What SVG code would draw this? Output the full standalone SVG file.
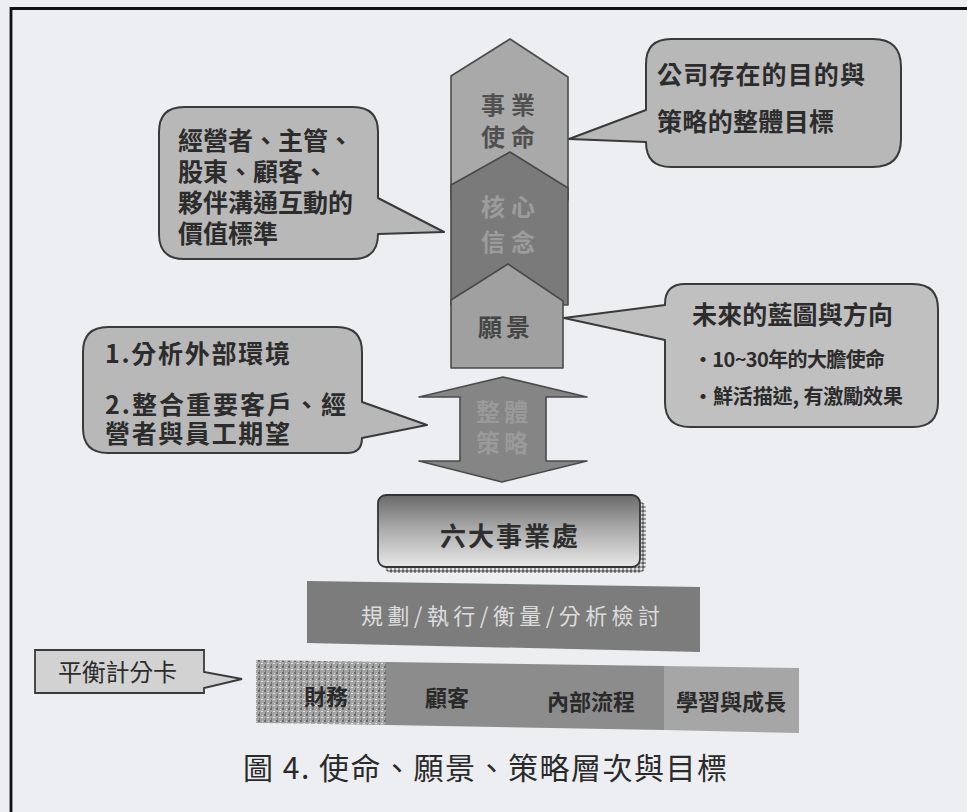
<svg xmlns="http://www.w3.org/2000/svg" width="967" height="812" viewBox="0 0 967 812">
<defs>
<style>
text{font-family:"Noto Sans CJK TC","Noto Sans CJK SC",sans-serif;}
.co{fill:#b8b8b8;stroke:#3a3a3a;stroke-width:2;stroke-linejoin:round;}
.ct{font-size:25px;font-weight:700;fill:#2c2c2c;}
.cs{font-size:20px;font-weight:700;fill:#2c2c2c;}
.col{stroke:#4a4a4a;stroke-width:1.6;stroke-linejoin:round;}
.lbl{font-size:24px;font-weight:700;text-anchor:middle;}
.bsc{font-size:22px;font-weight:700;fill:#2a2a2a;text-anchor:middle;}
</style>
<linearGradient id="g6" x1="0" y1="0" x2="0" y2="1">
<stop offset="0" stop-color="#6a6a6a"/>
<stop offset="0.45" stop-color="#a8a8a8"/>
<stop offset="1" stop-color="#e8e8e8"/>
</linearGradient>
<pattern id="speck" width="6" height="6" patternUnits="userSpaceOnUse">
<rect width="6" height="6" fill="#a4a4a4"/>
<rect x="0" y="0" width="2" height="2" fill="#6c6c6c"/>
<rect x="3" y="3" width="2" height="1" fill="#e2e2e2"/>
<rect x="4" y="1" width="1" height="1" fill="#d8d8d8"/>
<rect x="1" y="4" width="1" height="2" fill="#7a7a7a"/>
</pattern>
<pattern id="shadow" width="4" height="4" patternUnits="userSpaceOnUse">
<rect width="4" height="4" fill="#9c9c9c"/>
<rect x="0" y="0" width="2" height="2" fill="#e4e4e4"/>
<rect x="2" y="2" width="2" height="2" fill="#5e5e5e"/>
</pattern>
</defs>

<rect width="967" height="812" fill="#eceef1"/>
<path d="M11,812 V8.5 H967" fill="none" stroke="#111" stroke-width="2.8"/>

<g id="mission">
<polygon class="col" points="510,39 568,77 568,200 451,200 451,76" fill="#a9a9a9"/>
<text class="lbl" x="511" y="114" fill="#505050" letter-spacing="6">事業</text>
<text class="lbl" x="511" y="146" fill="#505050" letter-spacing="6">使命</text>
</g>
<g id="core-values">
<polygon class="col" points="510,152 568,188 568,305 451,305 451,185" fill="#7a7a7a"/>
<text class="lbl" x="511" y="216" fill="#9c9c9c" letter-spacing="6">核心</text>
<text class="lbl" x="511" y="251" fill="#9c9c9c" letter-spacing="6">信念</text>
</g>
<g id="vision">
<polygon class="col" points="508,264 563,301 563,368 451,368 451,300" fill="#a0a0a0"/>
<text class="lbl" x="506" y="336" fill="#454545" letter-spacing="4">願景</text>
</g>

<g id="callout-stakeholders">
<path class="co" d="M184,107 H353 Q378,107 378,132 V198 L444,232 L378,234 Q378,259 353,259 H184 Q159,259 159,234 V132 Q159,107 184,107 Z"/>
<text class="ct" x="178" y="150">經營者、主管、</text>
<text class="ct" x="178" y="181">股東、顧客、</text>
<text class="ct" x="178" y="212">夥伴溝通互動的</text>
<text class="ct" x="178" y="243">價值標準</text>
</g>

<g id="callout-purpose">
<path class="co" d="M671,39 H873 Q901,39 901,67 V139 Q901,167 873,167 H671 Q646,167 646,142 L569,139 L646,110 V64 Q646,39 671,39 Z"/>
<text class="ct" x="657" y="84" textLength="208" lengthAdjust="spacing">公司存在的目的與</text>
<text class="ct" x="657" y="131" textLength="177" lengthAdjust="spacing">策略的整體目標</text>
</g>

<g id="callout-future">
<path class="co" fill="#c0c0c0" style="fill:#c0c0c0" d="M685,284 H913 Q938,284 938,309 V402 Q938,427 913,427 H690 Q665,427 665,402 V340 L564,318 L665,305 V304 Q665,284 685,284 Z"/>
<text class="ct" x="692" y="324" textLength="201" lengthAdjust="spacing">未來的藍圖與方向</text>
<text class="cs" x="693" y="367" textLength="192" lengthAdjust="spacing">・10~30年的大膽使命</text>
<text class="cs" x="693" y="404" textLength="210" lengthAdjust="spacing">・鮮活描述, 有激勵效果</text>
</g>

<g id="callout-analysis">
<path class="co" d="M108,327 H337 Q362,327 362,352 V402 L427,425 L362,438 Q362,453 347,453 H108 Q83,453 83,428 V352 Q83,327 108,327 Z"/>
<text class="ct" x="105" y="363" textLength="185" lengthAdjust="spacing">1.分析外部環境</text>
<text class="ct" x="105" y="414" textLength="241" lengthAdjust="spacing">2.整合重要客戶、經</text>
<text class="ct" x="105" y="443" textLength="185" lengthAdjust="spacing">營者與員工期望</text>
</g>

<g id="connectors">
<polygon class="col" points="503,377 587,397 546,397 546,461 587,461 502,482 419,461 460,461 460,397 419,397" fill="#858585"/>
<text class="lbl" x="504" y="421" fill="#9a9a9a" letter-spacing="4">整體</text>
<text class="lbl" x="504" y="452" fill="#9a9a9a" letter-spacing="4">策略</text>
</g>

<g id="six-divisions">
<rect x="384" y="501" width="262" height="72" rx="8" fill="url(#shadow)"/>
<rect x="378" y="495" width="262" height="72" rx="8" fill="url(#g6)" stroke="#333" stroke-width="1.8"/>
<text x="509" y="546" font-size="26" font-weight="700" fill="#2e2e2e" text-anchor="middle" textLength="138" lengthAdjust="spacing">六大事業處</text>
</g>

<g id="plan-cycle">
<polygon points="307,581 700,587 700,652 307,643" fill="#7c7c7c"/>
<text x="361" y="624" font-size="22" fill="#dcdcdc" textLength="299" lengthAdjust="spacing">規劃/執行/衡量/分析檢討</text>
</g>

<g id="scorecard-bar">
<polygon points="256,660 386,662 386,725 256,723" fill="url(#speck)"/>
<polygon points="386,662 664,666 664,730 386,725" fill="#8c8c8c"/>
<polygon points="664,666 799,668 799,733 664,730" fill="#a6a6a6"/>
<text class="bsc" x="326" y="705">財務</text>
<text class="bsc" x="447" y="706">顧客</text>
<text class="bsc" x="591" y="710">內部流程</text>
<text class="bsc" x="731" y="710">學習與成長</text>
</g>

<g id="scorecard-label">
<path d="M35,650 H204 V672 L242,679 L204,688 V693 H35 Z" fill="#d2d2d2" stroke="#3a3a3a" stroke-width="1.8" stroke-linejoin="miter"/>
<text x="58" y="681" font-size="24" fill="#2c2c2c" textLength="119" lengthAdjust="spacing">平衡計分卡</text>
</g>

<g id="caption">
<text x="243" y="779" font-size="30" fill="#2a2a2a" textLength="484" lengthAdjust="spacing">圖 4. 使命、願景、策略層次與目標</text>
</g>
</svg>
